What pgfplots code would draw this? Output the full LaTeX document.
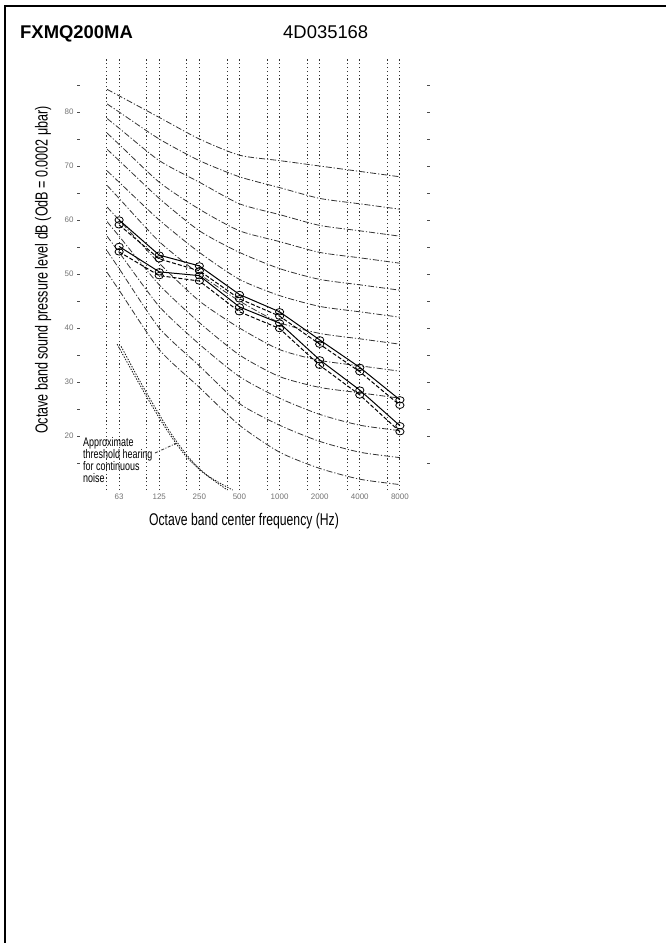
\documentclass[border=0pt]{standalone}
\usepackage{pgfplots}
\pgfplotsset{compat=1.18}
\usetikzlibrary{arrows.meta}
\usepackage{fontspec}
\setmainfont{Liberation Sans}
\newfontfamily\condfont{Liberation Sans}[FakeStretch=0.72]

\pgfplotstableread{
x y
-0.3 84.2
0 83
1 79
2 75
3 72
4 71
5 70
6 69
7 68
}\ncseventy

\begin{document}
\begin{tikzpicture}
\useasboundingbox (0,0) rectangle (666bp,-943bp);
\draw[line width=2bp] (5bp,-943bp) -- (5bp,-6bp) -- (666bp,-6bp);
\node[anchor=base west, inner sep=0pt, font=\fontsize{18.5}{21}\selectfont\bfseries] at (20bp,-38bp) {FXMQ200MA};
\node[anchor=base west, inner sep=0pt, font=\fontsize{18.5}{21}\selectfont] at (283bp,-38bp) {4D035168};

\begin{axis}[
  at={(77bp,-490bp)}, anchor=south west,
  scale only axis, width=353bp, height=432bp,
  xmin=-1.05, xmax=7.75, ymin=10, ymax=90,
  axis line style={draw=none},
  /pgf/number format/assume math mode=true,
  xtick={0,...,7},
  xticklabels={63,125,250,500,1000,2000,4000,8000},
  minor xtick={-0.31,0.69,1.69,2.69,3.69,4.69,5.69,6.69},
  xmajorgrids, xminorgrids,
  major grid style={black!80, line width=0.9bp, dash pattern=on 1.2bp off 2.6bp},
  minor grid style={black!80, line width=0.9bp, dash pattern=on 1.2bp off 2.6bp},
  xtick style={draw=none},
  minor x tick style={draw=none},
  ytick={20,30,...,80},
  minor ytick={15,25,...,85},
  ytick pos=both, yticklabel pos=left,
  ytick style={black!70, line width=0.9bp},
  major tick length=2.5bp, minor tick length=2.5bp,
  xticklabel style={font=\fontsize{8}{8}\selectfont, text=black!55},
  yticklabel style={font=\fontsize{8}{8}\selectfont, text=black!55},
  nc/.style={black!80, line width=0.8bp, dash pattern=on 6bp off 2bp on 1.2bp off 2bp, smooth, tension=0.4},
  thr/.style={black!90, line width=0.85bp, dash pattern=on 1.4bp off 1.4bp, smooth},
  dat/.style={black, line width=1bp, mark=o, mark size=3.6bp, mark options={solid, line width=0.8bp, xscale=1.15, yscale=0.9}},
]
% NC curves
\addplot[nc] table {\ncseventy};
\addplot[nc] coordinates {(-0.3,81.5)(0,80)(1,75)(2,71)(3,68)(4,66)(5,64)(6,63)(7,62)};
\addplot[nc] coordinates {(-0.3,78.8)(0,77)(1,71)(2,67)(3,63)(4,61)(5,59)(6,58)(7,57)};
\addplot[nc] coordinates {(-0.3,76.1)(0,74)(1,67)(2,62)(3,58)(4,56)(5,54)(6,53)(7,52)};
\addplot[nc] coordinates {(-0.3,73.1)(0,71)(1,64)(2,58)(3,54)(4,51)(5,49)(6,48)(7,47)};
\addplot[nc] coordinates {(-0.3,69.1)(0,67)(1,60)(2,54)(3,49)(4,46)(5,44)(6,43)(7,42)};
\addplot[nc] coordinates {(-0.3,66.4)(0,64)(1,56)(2,50)(3,45)(4,41)(5,39)(6,38)(7,37)};
\addplot[nc] coordinates {(-0.3,62.4)(0,60)(1,52)(2,45)(3,40)(4,36)(5,34)(6,33)(7,32)};
\addplot[nc] coordinates {(-0.3,59.7)(0,57)(1,48)(2,41)(3,35)(4,31)(5,29)(6,28)(7,27)};
\addplot[nc] coordinates {(-0.3,57)(0,54)(1,44)(2,37)(3,31)(4,27)(5,24)(6,22)(7,21)};
\addplot[nc] coordinates {(-0.3,54.3)(0,51)(1,40)(2,33)(3,26)(4,22)(5,19)(6,17)(7,16)};
\addplot[nc] coordinates {(-0.3,50.3)(0,47)(1,36)(2,29)(3,22)(4,17)(5,14)(6,12)(7,11)};
% threshold of hearing (double dotted)
\addplot[thr] coordinates {(-0.05,37)(0.4,31)(0.81,25.7)(1.2,21)(1.64,16.5)(2.1,13.2)(2.7,10)};
\addplot[thr] coordinates {(0.05,36.6)(0.5,30.4)(0.91,25.1)(1.3,20.4)(1.74,16)(2.2,12.7)(2.83,10)};
% measured data
\addplot[dat] coordinates {(0,60.0)(1,53.5)(2,51.5)(3,46.2)(4,43.0)(5,37.8)(6,32.7)(7,26.7)};
\addplot[dat, dash pattern=on 4bp off 2bp] coordinates {(0,59.1)(1,52.8)(2,50.6)(3,45.4)(4,42.2)(5,37.0)(6,31.9)(7,25.7)};
\addplot[dat] coordinates {(0,55.1)(1,50.4)(2,49.7)(3,43.9)(4,40.9)(5,34.1)(6,28.5)(7,21.9)};
\addplot[dat, dash pattern=on 4bp off 2bp] coordinates {(0,54.1)(1,49.7)(2,48.7)(3,43.0)(4,39.9)(5,33.1)(6,27.6)(7,20.8)};
\end{axis}

\node[rotate=90, inner sep=0pt, font=\condfont\fontsize{17.5}{17.5}\selectfont] at (43bp,-270bp) {Octave band sound pressure level dB (OdB = 0.0002 μbar)};
\node[inner sep=0pt, font=\condfont\fontsize{17}{17}\selectfont] at (244bp,-521bp) {Octave band center frequency (Hz)};
\node[anchor=north west, inner sep=0pt, align=left, font=\condfont\fontsize{12.5}{12.2}\selectfont] at (83bp,-437bp) {Approximate\\threshold hearing\\for continuous\\noise};
\draw[black!80, line width=0.8bp, dash pattern=on 3bp off 1.5bp on 1bp off 1.5bp, -{Latex[length=3bp]}] (155bp,-453bp) -- (177bp,-443bp);
\end{tikzpicture}
\end{document}
